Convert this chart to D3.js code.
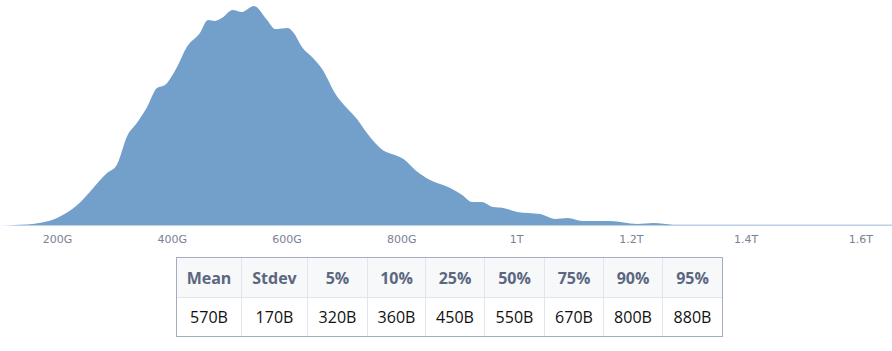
<!DOCTYPE html>
<html>
<head>
<meta charset="utf-8">
<script src="https://cdn.jsdelivr.net/npm/d3@7"></script>
<style>
  body { margin: 0; background: #fff; font-family: "Open Sans", sans-serif; }
  #chart-area { position: relative; width: 892px; height: 351px; }
  .tick text { fill: #7a8195; font-family: "DejaVu Sans", sans-serif; font-size: 11px; }
  table.stats {
    position: absolute; left: 176px; top: 257px;
    border-collapse: collapse;
    outline: 1px solid #a3adbf; outline-offset: -1px;
  }
  table.stats td, table.stats th {
    border: 1px solid #e1e6ee; text-align: center; padding: 0;
    font-size: 16px;
  }
  table.stats th { background: #f7f8fa; color: #5b6780; font-weight: 700; height: 39px; }
  table.stats td { color: #111; height: 38px; }
</style>
</head>
<body>
<div id="chart-area"></div>
<script>
// distribution of sizes (in G) and relative frequency
const sizes  = [100, 135, 187, 213, 239, 257, 287, 304, 323, 339, 356, 374, 388, 409, 426, 449, 463, 475, 487,
                506, 522, 543, 566, 580, 602, 611, 628, 646, 663, 684, 705, 724, 740, 763, 806, 824, 850, 885,
                906, 923, 940, 960, 977, 1002, 1042, 1068, 1090, 1115, 1164, 1211, 1239, 1274, 1355, 1495, 1655];
const counts = [0, 0.3, 2.2, 5.2, 10.3, 15.3, 23.9, 27.6, 41.2, 46.7, 53.5, 62.6, 64.0, 72.2, 81.3, 87.7, 93.6, 93.2, 94.5,
                98.2, 97.3, 100, 93.6, 89.5, 90.0, 88.2, 80.9, 76.3, 70.8, 60.4, 53.5, 48.1, 42.1, 35.3, 29.8, 25.3, 20.7, 17.1,
                13.9, 10.7, 10.7, 8.4, 8.0, 6.2, 5.2, 3.0, 3.4, 2.1, 2.1, 0.7, 1.1, 0.35, 0.3, 0.3, 0.3];

const tickValues = [200, 400, 600, 800, 1000, 1200, 1400, 1600];
const tickLabels = ["200G", "400G", "600G", "800G", "1T", "1.2T", "1.4T", "1.6T"];

const statNames  = ["Mean", "Stdev", "5%", "10%", "25%", "50%", "75%", "90%", "95%"];
const statValues = ["570B", "170B", "320B", "360B", "450B", "550B", "670B", "800B", "880B"];

const full_width = 892, full_height = 351;
const baseline = 225.5, peakTop = 6;

const data = sizes.map((s, i) => ({ x: s, y: counts[i] }));

const svg = d3.select("#chart-area")
    .append("svg")
    .attr("width", full_width)
    .attr("height", full_height);

const x = d3.scaleLinear()
    .domain([100, 1655])
    .range([-0.3, full_width]);

const y = d3.scaleLinear()
    .domain([0, d3.max(counts)])
    .range([baseline, peakTop]);

const area = d3.area()
    .x(d => x(d.x))
    .y0(baseline)
    .y1(d => y(d.y))
    .curve(d3.curveMonotoneX);

svg.append("path")
    .datum(data)
    .attr("fill", "#739fcb")
    .attr("d", area);

const xAxisCall = d3.axisBottom(x)
    .tickValues(tickValues)
    .tickSize(0)
    .tickPadding(0)
    .tickFormat((d, i) => tickLabels[i]);

svg.append("g")
    .attr("class", "x axis")
    .attr("transform", "translate(0, " + 235 + ")")
    .call(xAxisCall)
    .call(g => g.select(".domain").remove());

// stats table
const table = d3.select("#chart-area").append("table").attr("class", "stats");
const colWidths = [64, 65, 59, 57, 58, 59, 58, 58, 59];
table.append("tr").selectAll("th")
    .data(statNames)
    .enter().append("th")
    .style("width", (d, i) => colWidths[i] + "px")
    .text(d => d);
table.append("tr").selectAll("td")
    .data(statValues)
    .enter().append("td")
    .text(d => d);
</script>
</body>
</html>
